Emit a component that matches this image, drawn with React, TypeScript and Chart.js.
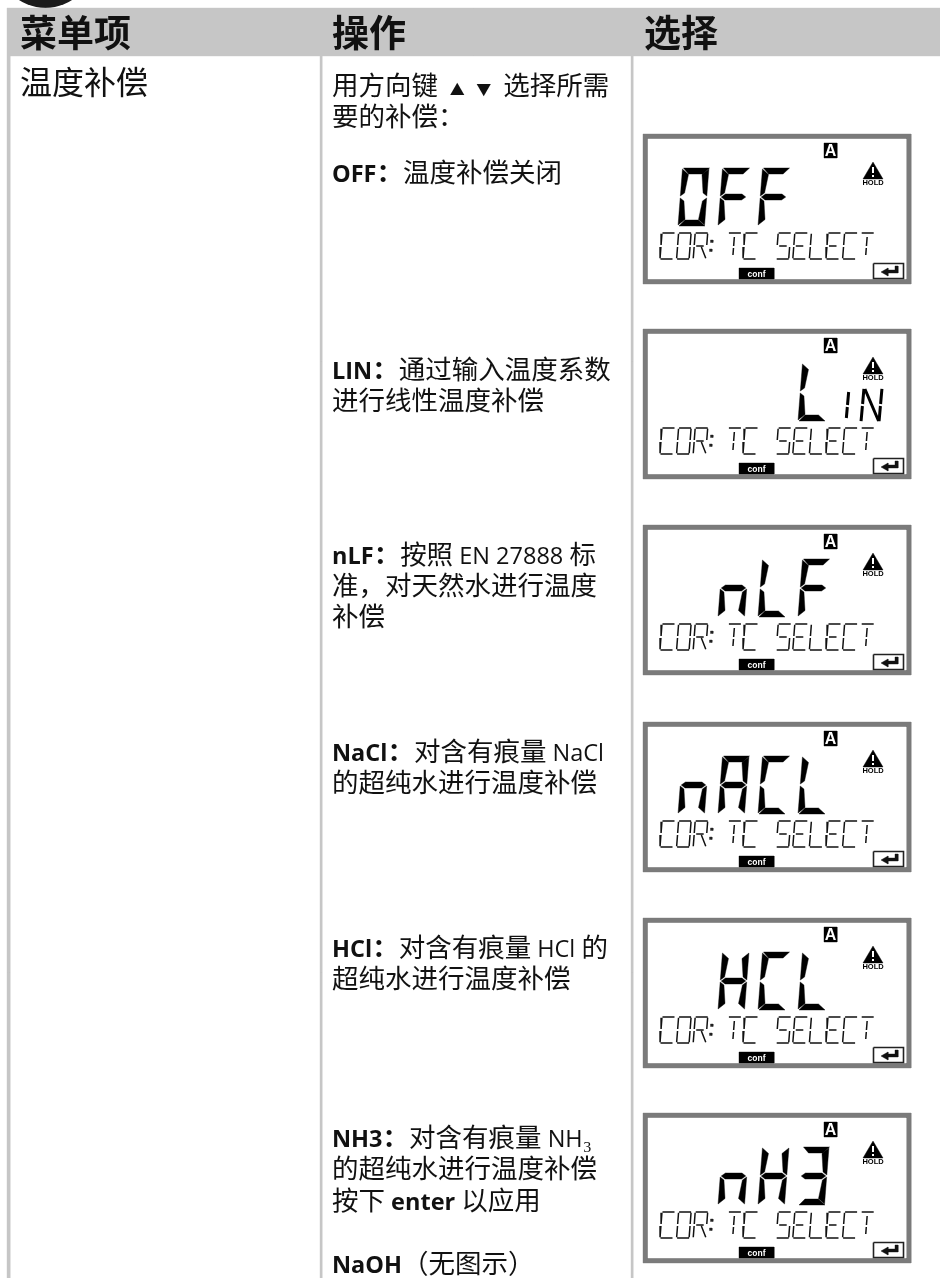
import React, { useEffect, useRef } from "react";
import { Chart, registerables } from "chart.js";

Chart.register(...registerables);

// ---------- content ----------
const headers = ["菜单项", "操作", "选择"];
const menuItem = "温度补偿";
// **bold** marks the bold runs
const instructionLines: [number, string][] = [
  [85, "用方向键 ▲▼ 选择所需"],
  [116, "要的补偿："],
  [172, "**OFF：**温度补偿关闭"],
  [369, "**LIN：**通过输入温度系数"],
  [400, "进行线性温度补偿"],
  [554, "**nLF：**按照 EN 27888 标"],
  [585, "准，对天然水进行温度"],
  [616, "补偿"],
  [751, "**NaCl：**对含有痕量 NaCl"],
  [782, "的超纯水进行温度补偿"],
  [947, "**HCl：**对含有痕量 HCl 的"],
  [978, "超纯水进行温度补偿"],
  [1137, "**NH3：**对含有痕量 NH₃"],
  [1168, "的超纯水进行温度补偿"],
  [1200, "按下 **enter** 以应用"],
  [1263, "**NaOH**（无图示）"],
];
const panelTops = [134, 329, 525, 722, 918, 1113];
const panelBig = ["OFF ", "   L", " nLF", "nACL", " HCL", " nH3"];
const panelSmall = ["", "IN", "", "", "", ""];
const statusText = "COR TC SELECT";

// ---------- colours ----------
const BAR = "#c6c6c6";
const FRAME = "#7b7b7b";
const INK = "#111111";

// ---------- segment tables ----------
const bigSegments: Record<string, string> = {
  O: "abcdef", F: "aefg", L: "def", n: "ceg", A: "abcefg", C: "adef", H: "bcefg", "3": "abcdg",
};
const smallStrokes: Record<string, string> = {
  C: "adef", O: "abcdef", R: "abefgr", T: "aij", S: "afgcd", E: "adefg", L: "def", I: "ij", N: "bcefn",
};

type P = { x: number; y: number };
const PAGE_W = 940;
const PAGE_H = 1278;

function bigPolys(ch: string, x0: number, y0: number): P[][] {
  const w = 26.5, h = 58, t = 6.5, sk = 4.5, m = h / 2;
  const sh = (x: number, y: number): P => ({ x: x0 + x + (sk * (h - y)) / h, y: y0 + y });
  const table: Record<string, [number, number][]> = {
    a: [[1, 0], [w + 0.5, 0], [w - t + 1, t - 0.5], [t, t - 0.5]],
    b: [[w, 1], [w, m - 1], [w - 4, m - 4], [w - t, t]],
    c: [[w, m + 1], [w, h - 1], [w - t, h - t], [w - 4, m + 4]],
    d: [[t, h - t + 0.5], [w - t, h - t + 0.5], [w + 0.5, h], [1, h]],
    e: [[0, m + 1], [4, m + 4], [t, h - t], [0, h - 1]],
    f: [[0, 1], [t, t], [4, m - 4], [0, m - 1]],
    g: [[1, m], [5, m - 3], [w - 5, m - 3], [w - 1, m], [w - 5, m + 3], [5, m + 3]],
  };
  return (bigSegments[ch] || "").split("").map((s) => {
    const pts = table[s].map(([x, y]) => sh(x, y));
    return [...pts, pts[0]];
  });
}

function smallLines(ch: string, x0: number, y0: number, w: number, h: number, sk: number): (P | { x: number; y: null })[] {
  const m = h / 2, c = w / 2;
  const sh = (x: number, y: number): P => ({ x: x0 + x + (sk * (h - y)) / h, y: y0 + y });
  const table: Record<string, [number, number][]> = {
    a: [[0.5, 0], [w, 0]],
    b: [[w, 0.8], [w, m - 1]],
    c: [[w, m + 1], [w, h - 0.8]],
    d: [[0.5, h], [w, h]],
    e: [[0, m + 1], [0, h - 0.8]],
    f: [[0, 0.8], [0, m - 1]],
    g: [[2, m], [w - 3, m]],
    r: [[c + 1, m + 1], [w, h - 0.8]],
    n: [[1, 1], [w - 0.5, h - 1]],
    i: [[c, 4], [c, m]],
    j: [[c, m + 2], [c, h - 4]],
  };
  const out: (P | { x: number; y: null })[] = [];
  for (const s of (smallStrokes[ch] || "").split("")) {
    table[s].forEach(([x, y]) => out.push(sh(x, y)));
    out.push({ x: x0, y: null });
  }
  return out;
}

function rect(x0: number, y0: number, x1: number, y1: number): P[] {
  return [{ x: x0, y: y0 }, { x: x1, y: y0 }, { x: x1, y: y1 }, { x: x0, y: y1 }, { x: x0, y: y0 }];
}

function poly(points: P[], color: string) {
  return { data: points, showLine: true, fill: "shape", backgroundColor: color, borderColor: color, borderWidth: 0.4, pointRadius: 0, tension: 0 };
}
function strokes(points: any[], color: string, width: number) {
  return { data: points, showLine: true, fill: false, borderColor: color, borderWidth: width, pointRadius: 0, spanGaps: false, tension: 0 };
}

function buildDatasets() {
  const ds: any[] = [];
  ds.push({ data: [{ x: 45.5, y: -40 }], pointRadius: 48, pointBackgroundColor: "#1a1a1a", pointBorderWidth: 0, showLine: false });
  ds.push(poly(rect(7, 8, PAGE_W, 56), BAR));
  [321, 632].forEach((x) => ds.push(poly(rect(x - 1, 56, x + 1, PAGE_H), BAR)));
  ds.push(poly(rect(7, 56, 10, PAGE_H), BAR));

  panelTops.forEach((top, idx) => {
    ds.push(poly(rect(643, top, 911, top + 150), FRAME));
    ds.push(poly(rect(648, top + 5, 906, top + 145), "#ffffff"));
    ds.push(poly(rect(824, top + 9, 837, top + 24), "#000000"));
    // warning triangle and its mark
    const tcx = 873, tt = top + 28, tb = top + 45;
    ds.push(poly([{ x: tcx, y: tt }, { x: tcx + 10, y: tb }, { x: tcx - 10, y: tb }, { x: tcx, y: tt }], "#000000"));
    ds.push(strokes([{ x: tcx, y: tt + 5 }, { x: tcx, y: tb - 6 }, { x: tcx, y: null }, { x: tcx, y: tb - 4 }, { x: tcx, y: tb - 2 }], "#ffffff", 2));
    // seven-segment readout
    panelBig[idx].split("").forEach((ch, slot) => {
      bigPolys(ch, 678 + slot * 40, top + 34).forEach((p) => ds.push(poly(p, "#000000")));
    });
    panelSmall[idx].split("").forEach((ch, i) => {
      ds.push(strokes(smallLines(ch, i === 0 ? 840 : 861, top + 59, ch === "I" ? 12 : 18, 34, 3), "#000000", 3));
    });
    // status row
    statusText.split("").forEach((ch, i) => {
      const x = 660 + i * 16.6;
      ds.push(strokes(smallLines(ch, x, top + 99, 12.5, 26, 2), "#111111", 1.5));
    });
    ds.push(poly(rect(709.5, top + 115, 712, top + 117.5), "#222222"));
    ds.push(poly(rect(710.5, top + 106, 713, top + 108.5), "#222222"));
    // soft-key tag and return key
    ds.push(poly(rect(739, top + 134, 774, top + 145), "#000000"));
    ds.push(strokes(rect(873.5, top + 129.5, 903.5, top + 144.5), "#222222", 1.6));
    ds.push(poly([
      { x: 881, y: top + 138 }, { x: 888, y: top + 134 }, { x: 888, y: top + 136 }, { x: 895, y: top + 136 },
      { x: 895, y: top + 132 }, { x: 898, y: top + 132 }, { x: 898, y: top + 139 }, { x: 888, y: top + 139 },
      { x: 888, y: top + 142 }, { x: 881, y: top + 138 },
    ], "#111111"));
  });
  // Chart.js paints the first dataset last, so the list is reversed to stack in build order
  return ds.reverse();
}

// ---------- text ----------
const SANS = '"Open Sans","Noto Sans CJK SC",sans-serif';

function Run({ part }: { part: string }) {
  if (/^[\x00-\x7f]+$/.test(part)) return <span style={{ fontSize: 23.5, fontFamily: '"Open Sans"' }}>{part}</span>;
  return (
    <span style={{ fontFamily: '"Noto Sans CJK SC"' }}>
      {part.split(/([▲▼])/).filter(Boolean).map((s, k) =>
        s === "▲" || s === "▼"
          ? <span key={k} style={{ display: "inline-block", width: 26.5, textAlign: "center", fontSize: 15 }}>{s}</span>
          : <span key={k}>{s}</span>
      )}
    </span>
  );
}

function Line({ y, x, text }: { y: number; x: number; text: string }) {
  const runs = text.split("**");
  return (
    <div style={{ position: "absolute", left: x, top: y - 21.5, height: 40, lineHeight: "40px", whiteSpace: "pre", color: INK, fontFamily: SANS, fontSize: 26.5 }}>
      {runs.map((run, i) => (
        <span key={i} style={{ fontWeight: i % 2 ? 700 : 400 }}>
          {run.split(/([\x00-\x7f]+)/).filter(Boolean).map((part, j) => <Run key={j} part={part} />)}
        </span>
      ))}
    </div>
  );
}

function Tag({ x, y, size, color, text, w }: { x: number; y: number; size: number; color: string; text: string; w: number }) {
  return (
    <div style={{ position: "absolute", left: x, top: y - 10, width: w, height: 20, lineHeight: "20px", textAlign: "center", fontFamily: '"Liberation Sans"', fontWeight: 700, fontSize: size, color }}>{text}</div>
  );
}

export default function App() {
  const ref = useRef<HTMLCanvasElement>(null);
  useEffect(() => {
    document.body.style.margin = "0";
    document.body.style.background = "#ffffff";
    const chart = new Chart(ref.current!, {
      type: "scatter",
      data: { datasets: buildDatasets() },
      options: {
        animation: false,
        responsive: false,
        maintainAspectRatio: false,
        layout: { padding: 0, autoPadding: false },
        plugins: { legend: { display: false }, tooltip: { enabled: false } },
        events: [],
        scales: {
          x: { type: "linear", min: 0, max: PAGE_W, display: false },
          y: { type: "linear", min: 0, max: PAGE_H, reverse: true, display: false },
        },
      },
    } as any);
    return () => chart.destroy();
  }, []);
  return (
    <div style={{ position: "relative", width: PAGE_W, height: PAGE_H, overflow: "hidden" }}>
      <canvas ref={ref} width={PAGE_W} height={PAGE_H} style={{ position: "absolute", left: 0, top: 0 }} />
      {headers.map((h, i) => (
        <div key={h} style={{ position: "absolute", left: [20, 332, 644][i], top: 6, lineHeight: "50px", fontFamily: '"Noto Sans CJK SC"', fontWeight: 700, fontSize: 37, color: INK }}>{h}</div>
      ))}
      <div style={{ position: "absolute", left: 20, top: 58, lineHeight: "44px", fontFamily: '"Noto Sans CJK SC"', fontSize: 32, color: INK }}>{menuItem}</div>
      {instructionLines.map(([y, t]) => <Line key={y} y={y} x={332} text={t} />)}
      {panelTops.map((top) => (
        <React.Fragment key={top}>
          <Tag x={824} y={top + 16.5} size={16} color="#ffffff" text="A" w={13} />
          <Tag x={858} y={top + 48.5} size={7.5} color="#000000" text="HOLD" w={30} />
          <Tag x={739} y={top + 139.5} size={8.5} color="#ffffff" text="conf" w={35} />
        </React.Fragment>
      ))}
    </div>
  );
}
